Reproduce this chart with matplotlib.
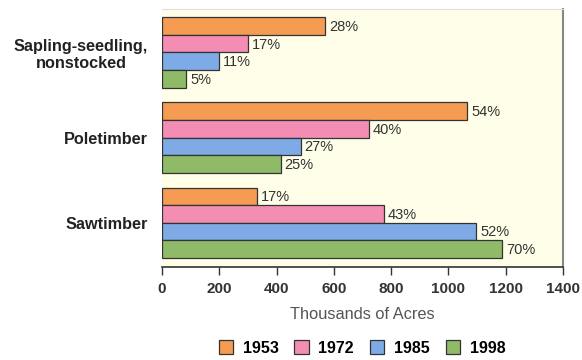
import matplotlib
matplotlib.use("Agg")
import matplotlib.pyplot as plt
import numpy as np

# Forest area by stand-size class (thousands of acres)
classes = ["Sapling-seedling,\nnonstocked", "Poletimber", "Sawtimber"]
years = ["1953", "1972", "1985", "1998"]
acres_1953 = [569, 1065, 330]
acres_1972 = [301, 722, 774]
acres_1985 = [198, 484, 1096]
acres_1998 = [85, 414, 1188]
pct_1953 = [28, 54, 17]
pct_1972 = [17, 40, 43]
pct_1985 = [11, 27, 52]
pct_1998 = [5, 25, 70]

series = [acres_1953, acres_1972, acres_1985, acres_1998]
pcts = [pct_1953, pct_1972, pct_1985, pct_1998]
pal = ["#f59c52", "#f48db4", "#7eaae6", "#8fbb68"]

plt.rcParams["font.family"] = ["Liberation Sans", "DejaVu Sans"]

fig = plt.figure(figsize=(5.82, 3.6), dpi=100)
ax = fig.add_axes([0.2784, 0.2583, 0.689, 0.7167])
ax.set_facecolor("#fffee8")

y = np.arange(len(classes))
h = 0.206
for i, (vals, pc) in enumerate(zip(series, pcts)):
    pos = y - 1.5 * h + i * h
    ax.barh(pos, vals, height=h, color=pal[i], edgecolor="#333333",
            linewidth=0.9, label=years[i], zorder=2)
    for p, v, t in zip(pos, vals, pc):
        ax.text(v + 14, p + 0.01, f"{t}%", va="center", ha="left",
                fontsize=10.5, color="#333333")

ax.set_xlim(0, 1400)
ax.set_ylim(2.52, -0.51)
ax.set_xticks(range(0, 1401, 200))
ax.set_yticks(y)
ax.set_yticklabels(classes, fontsize=11.7, fontweight="bold", color="#222222",
                   ha="right", multialignment="center")
ax.tick_params(axis="y", length=0, pad=10)
ax.tick_params(axis="x", length=6, width=1, color="#333333", pad=5,
               labelsize=11, labelcolor="#333333")
for lab in ax.get_xticklabels():
    lab.set_fontweight("bold")

ax.spines["left"].set_visible(False)
ax.spines["top"].set_color("#dddddd")
ax.spines["right"].set_color("#888888")
ax.spines["right"].set_linewidth(1.5)
ax.spines["bottom"].set_color("#333333")
ax.spines["bottom"].set_linewidth(1.2)

ax.set_xlabel("Thousands of Acres", fontsize=11.8, color="#555555", labelpad=8)

fig.legend(loc="center", bbox_to_anchor=(0.622, 1 - 348 / 360), ncol=4,
           frameon=False, prop={"weight": "bold", "size": 11.5},
           handlelength=0.9, handleheight=1.0, columnspacing=1.0,
           handletextpad=0.6)

fig.savefig("out.png", dpi=100)
